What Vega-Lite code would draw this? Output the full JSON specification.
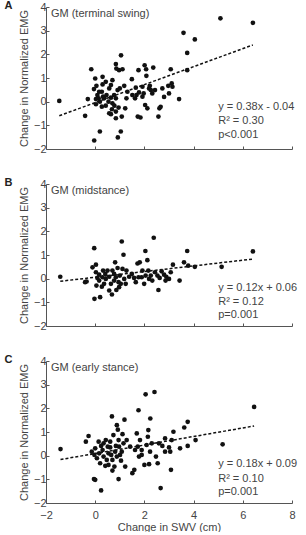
{
  "$schema": "https://vega.github.io/schema/vega-lite/v6.json",
  "padding": {"left": 4, "top": 0, "right": 8, "bottom": 0},
  "spacing": 23,
  "config": {
    "view": {"stroke": null},
    "font": "Liberation Sans",
    "axis": {"domainColor": "#555", "tickColor": "#555", "labelColor": "#444", "titleColor": "#444", "labelFontSize": 11, "titleFontSize": 11, "titleFontWeight": "normal", "grid": false, "tickSize": -3, "labelPadding": 3, "labelFlush": false, "labelOverlap": false},
    "axisX": {"labelPadding": 9, "titlePadding": 1},
    "title": {"anchor": "start", "frame": "bounds", "fontSize": 11, "fontWeight": "bold", "color": "#222", "offset": -10, "dx": -14}
  },
  "datasets": {
    "A": [
      {"x": -1.46, "y": 0.03}, {"x": -0.41, "y": -0.6}, {"x": -0.3, "y": 0.11}, {"x": -0.16, "y": 1.37}, {"x": -0.05, "y": 0.53},
      {"x": 0.0, "y": 0.98}, {"x": 0.05, "y": 0.67}, {"x": 0.09, "y": 0.28}, {"x": 0.14, "y": 0.14}, {"x": 0.03, "y": -0.11},
      {"x": 0.19, "y": 0.0}, {"x": -0.04, "y": -1.64}, {"x": 0.19, "y": -1.26}, {"x": 0.3, "y": 1.05}, {"x": 0.3, "y": 0.73},
      {"x": 0.27, "y": 0.42}, {"x": 0.36, "y": 0.14}, {"x": 0.43, "y": -0.17}, {"x": 0.27, "y": -0.21}, {"x": 0.57, "y": 0.56},
      {"x": 0.64, "y": 0.17}, {"x": 0.54, "y": 0.0}, {"x": 0.68, "y": -0.32}, {"x": 0.64, "y": -0.53}, {"x": 0.7, "y": 0.91},
      {"x": 0.84, "y": 1.59}, {"x": 0.86, "y": 1.4}, {"x": 0.97, "y": 1.33}, {"x": 1.05, "y": 1.96}, {"x": 1.11, "y": 1.37},
      {"x": 0.77, "y": 0.28}, {"x": 0.84, "y": 0.14}, {"x": 0.91, "y": 0.49}, {"x": 1.0, "y": 0.56}, {"x": 0.95, "y": -0.25},
      {"x": 0.84, "y": -0.42}, {"x": 1.08, "y": -0.63}, {"x": 1.04, "y": -1.26}, {"x": 0.92, "y": -1.51}, {"x": 1.18, "y": 0.67},
      {"x": 1.27, "y": 0.14}, {"x": 1.22, "y": -0.28}, {"x": 1.49, "y": 0.95}, {"x": 1.65, "y": 0.59}, {"x": 1.68, "y": 0.28},
      {"x": 1.78, "y": 0.39}, {"x": 1.76, "y": 1.33}, {"x": 1.73, "y": -0.63}, {"x": 1.84, "y": -0.67}, {"x": 1.92, "y": 0.21},
      {"x": 1.97, "y": 0.35}, {"x": 2.01, "y": 1.54}, {"x": 2.07, "y": 1.37}, {"x": 2.08, "y": 1.09}, {"x": 2.03, "y": -0.14},
      {"x": 2.12, "y": -0.28}, {"x": 2.19, "y": 0.56}, {"x": 2.22, "y": 0.67}, {"x": 2.26, "y": 0.49}, {"x": 2.32, "y": 0.35},
      {"x": 2.36, "y": 1.44}, {"x": 2.43, "y": 0.49}, {"x": 2.57, "y": -0.63}, {"x": 2.61, "y": -0.28}, {"x": 2.66, "y": -0.22},
      {"x": 2.8, "y": 0.2}, {"x": 3.0, "y": 0.35}, {"x": 2.97, "y": 0.67}, {"x": 3.07, "y": 1.37}, {"x": 3.11, "y": 0.77},
      {"x": 3.14, "y": 0.63}, {"x": 3.41, "y": 0.11}, {"x": 3.59, "y": 2.91}, {"x": 3.74, "y": 2.06}, {"x": 3.74, "y": 1.33},
      {"x": 4.05, "y": 2.63}, {"x": 5.09, "y": 3.52}, {"x": 6.41, "y": 3.33}, {"x": 0.16, "y": 0.42}, {"x": 0.32, "y": 0.21},
      {"x": 0.46, "y": 0.28}, {"x": 0.7, "y": -0.07}, {"x": 0.78, "y": -0.17}, {"x": 0.57, "y": -0.49}, {"x": 0.03, "y": 0.11},
      {"x": 1.31, "y": 0.42}, {"x": 1.51, "y": 0.28}, {"x": 1.62, "y": 0.14}, {"x": 0.43, "y": 0.84}, {"x": 0.64, "y": 0.7},
      {"x": 0.84, "y": -0.7}, {"x": 1.92, "y": 0.63}, {"x": 2.73, "y": 0.56}
    ],
    "B": [
      {"x": -1.42, "y": 0.08}, {"x": -0.41, "y": -0.15}, {"x": -0.35, "y": -0.12}, {"x": -0.04, "y": 1.29}, {"x": -0.11, "y": 0.48},
      {"x": 0.03, "y": 0.59}, {"x": -0.03, "y": -0.85}, {"x": 0.2, "y": -0.78}, {"x": 0.09, "y": 0.03}, {"x": 0.16, "y": -0.08},
      {"x": 0.05, "y": -0.29}, {"x": 0.27, "y": -0.34}, {"x": 0.32, "y": 0.34}, {"x": 0.41, "y": 0.2}, {"x": 0.43, "y": -0.01},
      {"x": 0.57, "y": 0.08}, {"x": 0.64, "y": -0.22}, {"x": 0.68, "y": -0.67}, {"x": 0.81, "y": 0.69}, {"x": 0.91, "y": 0.45},
      {"x": 0.84, "y": 0.06}, {"x": 0.95, "y": -0.15}, {"x": 0.97, "y": -0.36}, {"x": 1.08, "y": 1.57}, {"x": 1.15, "y": 1.01},
      {"x": 1.11, "y": 0.41}, {"x": 1.18, "y": -0.01}, {"x": 1.27, "y": 0.34}, {"x": 1.38, "y": 0.08}, {"x": 1.49, "y": 0.2},
      {"x": 1.65, "y": -0.15}, {"x": 1.72, "y": 0.64}, {"x": 1.81, "y": 0.69}, {"x": 1.89, "y": 0.06}, {"x": 1.99, "y": -0.22},
      {"x": 2.04, "y": 1.17}, {"x": 2.12, "y": 0.78}, {"x": 2.16, "y": 0.34}, {"x": 2.19, "y": -0.01}, {"x": 2.32, "y": -0.08},
      {"x": 2.38, "y": 1.73}, {"x": 2.43, "y": 0.27}, {"x": 2.57, "y": -0.48}, {"x": 2.62, "y": 0.03}, {"x": 2.7, "y": 0.31},
      {"x": 2.8, "y": 0.17}, {"x": 2.89, "y": 0.08}, {"x": 3.0, "y": -0.01}, {"x": 3.07, "y": 0.27}, {"x": 3.16, "y": 0.59},
      {"x": 3.43, "y": -0.08}, {"x": 3.61, "y": 0.69}, {"x": 3.74, "y": 1.17}, {"x": 3.78, "y": 0.55}, {"x": 4.05, "y": 0.5},
      {"x": 5.14, "y": 0.5}, {"x": 6.41, "y": 1.15}, {"x": 0.3, "y": 0.06}, {"x": 0.5, "y": 0.34}, {"x": 0.7, "y": 0.34},
      {"x": 0.77, "y": -0.08}, {"x": 0.86, "y": -0.48}, {"x": 1.04, "y": -0.22}, {"x": 0.57, "y": -0.5}, {"x": 0.16, "y": 0.17},
      {"x": 1.76, "y": 0.06}, {"x": 1.92, "y": 0.34}, {"x": 2.05, "y": 0.13}, {"x": 2.26, "y": 0.13}, {"x": 0.03, "y": 0.27},
      {"x": 0.36, "y": -0.22}, {"x": 1.24, "y": -0.22}, {"x": 1.58, "y": 0.03}, {"x": 2.53, "y": 0.13}, {"x": 2.86, "y": -0.08},
      {"x": 0.77, "y": 0.2}, {"x": 1.0, "y": 0.13}
    ],
    "C": [
      {"x": -1.41, "y": 0.28}, {"x": -0.38, "y": 0.59}, {"x": -0.27, "y": 0.83}, {"x": -0.05, "y": -0.99}, {"x": 0.0, "y": -1.02},
      {"x": 0.24, "y": -1.47}, {"x": -0.14, "y": 0.17}, {"x": -0.03, "y": 0.03}, {"x": 0.07, "y": -0.11}, {"x": 0.14, "y": 0.59},
      {"x": 0.24, "y": 0.41}, {"x": 0.3, "y": 0.24}, {"x": 0.2, "y": -0.32}, {"x": 0.41, "y": -0.43}, {"x": 0.43, "y": 0.66},
      {"x": 0.54, "y": 0.1}, {"x": 0.61, "y": 0.35}, {"x": 0.68, "y": 1.66}, {"x": 0.74, "y": 0.87}, {"x": 0.7, "y": -0.18},
      {"x": 0.78, "y": -0.46}, {"x": 0.7, "y": -0.63}, {"x": 0.88, "y": 1.29}, {"x": 0.92, "y": 1.1}, {"x": 0.95, "y": 0.66},
      {"x": 0.97, "y": 0.38}, {"x": 1.01, "y": 0.03}, {"x": 1.05, "y": -0.21}, {"x": 0.95, "y": -0.99}, {"x": 1.11, "y": 0.91},
      {"x": 1.15, "y": 0.52}, {"x": 1.19, "y": 1.52}, {"x": 1.22, "y": -0.46}, {"x": 1.28, "y": 0.66}, {"x": 1.42, "y": 0.38},
      {"x": 1.51, "y": -0.74}, {"x": 1.59, "y": -0.6}, {"x": 1.69, "y": 0.94}, {"x": 1.73, "y": 0.38}, {"x": 1.76, "y": 1.92},
      {"x": 1.78, "y": -0.04}, {"x": 1.82, "y": 0.66}, {"x": 1.89, "y": 0.03}, {"x": 2.0, "y": -0.39}, {"x": 2.05, "y": 2.59},
      {"x": 2.09, "y": 0.45}, {"x": 2.14, "y": 0.8}, {"x": 2.16, "y": 1.08}, {"x": 2.19, "y": -0.36}, {"x": 2.23, "y": 0.17},
      {"x": 2.24, "y": 1.57}, {"x": 2.3, "y": 0.52}, {"x": 2.41, "y": 2.69}, {"x": 2.47, "y": -0.04}, {"x": 2.54, "y": -0.32},
      {"x": 2.59, "y": 0.52}, {"x": 2.66, "y": -1.37}, {"x": 2.73, "y": 0.41}, {"x": 2.84, "y": 0.73}, {"x": 3.0, "y": 0.35},
      {"x": 3.05, "y": 0.17}, {"x": 3.08, "y": -0.6}, {"x": 3.18, "y": 1.01}, {"x": 3.11, "y": 0.66}, {"x": 3.45, "y": 0.31},
      {"x": 3.62, "y": 1.19}, {"x": 3.76, "y": 1.43}, {"x": 3.76, "y": 0.41}, {"x": 4.08, "y": 0.66}, {"x": 5.18, "y": 0.48},
      {"x": 6.46, "y": 2.06}, {"x": 0.0, "y": 0.31}, {"x": 0.16, "y": 0.1}, {"x": 0.34, "y": -0.04}, {"x": 0.47, "y": -0.18},
      {"x": 0.54, "y": -0.39}, {"x": 0.61, "y": 0.59}, {"x": 0.81, "y": 0.17}, {"x": 0.88, "y": -0.04}, {"x": 0.84, "y": 0.41},
      {"x": 0.34, "y": 0.52}, {"x": 0.51, "y": 0.38}, {"x": 0.65, "y": 0.03}, {"x": 1.62, "y": 0.24}, {"x": 1.89, "y": 0.24},
      {"x": 2.84, "y": 0.17}, {"x": 1.08, "y": 0.17}
    ],
    "fitA": [{"x": -1.46, "y": -0.595}, {"x": 6.41, "y": 2.396}],
    "fitB": [{"x": -1.42, "y": -0.11}, {"x": 6.41, "y": 0.829}],
    "fitC": [{"x": -1.41, "y": -0.164}, {"x": 6.46, "y": 1.253}],
    "txtA": [
      {"x": -1.8, "y": 3.72, "t": "GM (terminal swing)"},
      {"x": 5.0, "y": -0.24, "t": "y = 0.38x - 0.04"},
      {"x": 5.0, "y": -0.83, "t": "R² = 0.30"},
      {"x": 5.0, "y": -1.4, "t": "p<0.001"}
    ],
    "txtB": [
      {"x": -1.8, "y": 3.72, "t": "GM (midstance)"},
      {"x": 5.0, "y": -0.38, "t": "y = 0.12x + 0.06"},
      {"x": 5.0, "y": -0.98, "t": "R² = 0.12"},
      {"x": 5.0, "y": -1.52, "t": "p=0.001"}
    ],
    "txtC": [
      {"x": -1.8, "y": 3.72, "t": "GM (early stance)"},
      {"x": 5.0, "y": -0.35, "t": "y = 0.18x + 0.09"},
      {"x": 5.0, "y": -0.98, "t": "R² = 0.10"},
      {"x": 5.0, "y": -1.53, "t": "p=0.001"}
    ]
  },
  "vconcat": [
    {
      "title": {"text": "A"},
      "width": 246, "height": 142,
      "encoding": {
        "x": {"field": "x", "type": "quantitative", "scale": {"domain": [-2, 8], "nice": false}, "axis": {"values": [-2, 0, 2, 4, 6, 8], "labels": false, "title": null, "labelOverlap": false}},
        "y": {"field": "y", "type": "quantitative", "scale": {"domain": [-2, 4], "nice": false}, "axis": {"values": [-2, -1, 0, 1, 2, 3, 4], "tickCount": 7, "labelOverlap": false, "title": "Change in Normalized EMG"}}
      },
      "layer": [
        {"data": {"name": "A"}, "mark": {"type": "circle", "size": 22, "color": "#111", "opacity": 1}},
        {"data": {"name": "fitA"}, "mark": {"type": "line", "color": "#111", "strokeDash": [3, 2], "strokeWidth": 1.5}},
        {"data": {"name": "txtA"}, "mark": {"type": "text", "align": "left", "baseline": "middle", "fontSize": 11, "color": "#444"},
         "encoding": {"text": {"field": "t"}}}
      ]
    },
    {
      "title": {"text": "B"},
      "width": 246, "height": 142,
      "encoding": {
        "x": {"field": "x", "type": "quantitative", "scale": {"domain": [-2, 8], "nice": false}, "axis": {"values": [-2, 0, 2, 4, 6, 8], "labels": false, "title": null, "labelOverlap": false}},
        "y": {"field": "y", "type": "quantitative", "scale": {"domain": [-2, 4], "nice": false}, "axis": {"values": [-2, -1, 0, 1, 2, 3, 4], "tickCount": 7, "labelOverlap": false, "title": "Change in Normalized EMG"}}
      },
      "layer": [
        {"data": {"name": "B"}, "mark": {"type": "circle", "size": 22, "color": "#111", "opacity": 1}},
        {"data": {"name": "fitB"}, "mark": {"type": "line", "color": "#111", "strokeDash": [3, 2], "strokeWidth": 1.5}},
        {"data": {"name": "txtB"}, "mark": {"type": "text", "align": "left", "baseline": "middle", "fontSize": 11, "color": "#444"},
         "encoding": {"text": {"field": "t"}}}
      ]
    },
    {
      "title": {"text": "C"},
      "width": 246, "height": 142,
      "encoding": {
        "x": {"field": "x", "type": "quantitative", "scale": {"domain": [-2, 8], "nice": false}, "axis": {"values": [-2, 0, 2, 4, 6, 8], "labelOverlap": false, "title": "Change in SWV (cm)"}},
        "y": {"field": "y", "type": "quantitative", "scale": {"domain": [-2, 4], "nice": false}, "axis": {"values": [-2, -1, 0, 1, 2, 3, 4], "tickCount": 7, "labelOverlap": false, "title": "Change in Normalized EMG"}}
      },
      "layer": [
        {"data": {"name": "C"}, "mark": {"type": "circle", "size": 22, "color": "#111", "opacity": 1}},
        {"data": {"name": "fitC"}, "mark": {"type": "line", "color": "#111", "strokeDash": [3, 2], "strokeWidth": 1.5}},
        {"data": {"name": "txtC"}, "mark": {"type": "text", "align": "left", "baseline": "middle", "fontSize": 11, "color": "#444"},
         "encoding": {"text": {"field": "t"}}}
      ]
    }
  ]
}
